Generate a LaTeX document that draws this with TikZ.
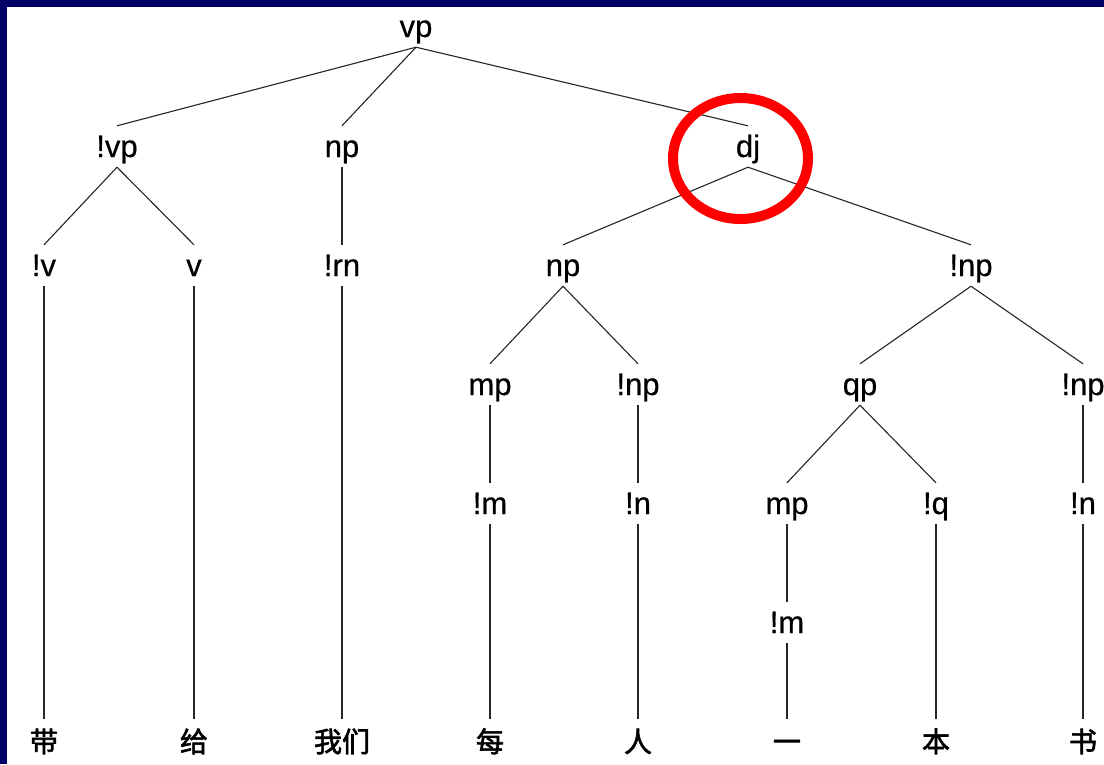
\documentclass[tikz,border=0pt]{standalone}
\usepackage{fontspec}
\newfontfamily\labfont{Liberation Sans}[FakeBold=0.6]
\newfontfamily\cjkfont{Noto Sans CJK SC}[FakeBold=2.2]
\definecolor{navyband}{RGB}{0,0,102}
\definecolor{ringred}{RGB}{255,0,0}
\begin{document}
\begin{tikzpicture}[x=1pt,y=-1pt,
  lab/.style={font=\labfont\fontsize{31}{36}\selectfont, inner sep=0pt, text height=31pt, text depth=10pt, anchor=base},
  leaf/.style={font=\cjkfont\fontsize{28}{32}\selectfont, inner sep=0pt, text height=33pt, text depth=3pt, anchor=base},
  branch/.style={line width=1.1pt, black!85},
  ring/.style={draw=ringred, line width=10pt}]
\useasboundingbox (0,0) rectangle (1104,764);
\fill[white] (0,0) rectangle (1104,764);
\fill[navyband] (0,0) rectangle (1104,7);
\fill[navyband] (0,0) rectangle (7,764);
% level 1
\node[lab] (vp) at (416,37) {vp};
% level 2
\node[lab] (lvp) at (117,157) {!vp};
\node[lab] (np2) at (342,157) {np};
\node[lab] (dj) at (748,157) {dj};
% level 3
\node[lab] (lv) at (44,276) {!v};
\node[lab] (v) at (194,276) {v};
\node[lab] (lrn) at (342,276) {!rn};
\node[lab] (np3) at (563,276) {np};
\node[lab] (lnp3) at (971,276) {!np};
% level 4
\node[lab] (mp4) at (490,395) {mp};
\node[lab] (lnp4) at (638,395) {!np};
\node[lab] (qp4) at (860,395) {qp};
\node[lab] (lnp4b) at (1083,395) {!np};
% level 5
\node[lab] (lm5) at (490,514) {!m};
\node[lab] (ln5) at (638,514) {!n};
\node[lab] (mp5) at (787,514) {mp};
\node[lab] (lq5) at (936,514) {!q};
\node[lab] (ln5b) at (1083,514) {!n};
% level 6
\node[lab] (lm6) at (787,633) {!m};
% leaves
\node[leaf] (c1) at (44,752) {带};
\node[leaf] (c2) at (194,752) {给};
\node[leaf] (c3) at (342,752) {我们};
\node[leaf] (c4) at (490,752) {每};
\node[leaf] (c5) at (638,752) {人};
\node[leaf] (c6) at (787,752) {一};
\node[leaf] (c7) at (936,752) {本};
\node[leaf] (c8) at (1083,752) {书};
% branches
\draw[branch] (vp.south) -- (lvp.north);
\draw[branch] (vp.south) -- (np2.north);
\draw[branch] (vp.south) -- (dj.north);
\draw[branch] (lvp.south) -- (lv.north);
\draw[branch] (lvp.south) -- (v.north);
\draw[branch] (np2.south) -- (lrn.north);
\draw[branch] (dj.south) -- (np3.north);
\draw[branch] (dj.south) -- (lnp3.north);
\draw[branch] (lv.south) -- (c1.north);
\draw[branch] (v.south) -- (c2.north);
\draw[branch] (lrn.south) -- (c3.north);
\draw[branch] (np3.south) -- (mp4.north);
\draw[branch] (np3.south) -- (lnp4.north);
\draw[branch] (lnp3.south) -- (qp4.north);
\draw[branch] (lnp3.south) -- (lnp4b.north);
\draw[branch] (mp4.south) -- (lm5.north);
\draw[branch] (lnp4.south) -- (ln5.north);
\draw[branch] (qp4.south) -- (mp5.north);
\draw[branch] (qp4.south) -- (lq5.north);
\draw[branch] (lnp4b.south) -- (ln5b.north);
\draw[branch] (lm5.south) -- (c4.north);
\draw[branch] (ln5.south) -- (c5.north);
\draw[branch] (mp5.south) -- (lm6.north);
\draw[branch] (lm6.south) -- (c6.north);
\draw[branch] (lq5.south) -- (c7.north);
\draw[branch] (ln5b.south) -- (c8.north);
% highlight ring
\draw[ring] (740.5,158.5) ellipse [x radius=67.5, y radius=60.5];
\end{tikzpicture}
\end{document}
